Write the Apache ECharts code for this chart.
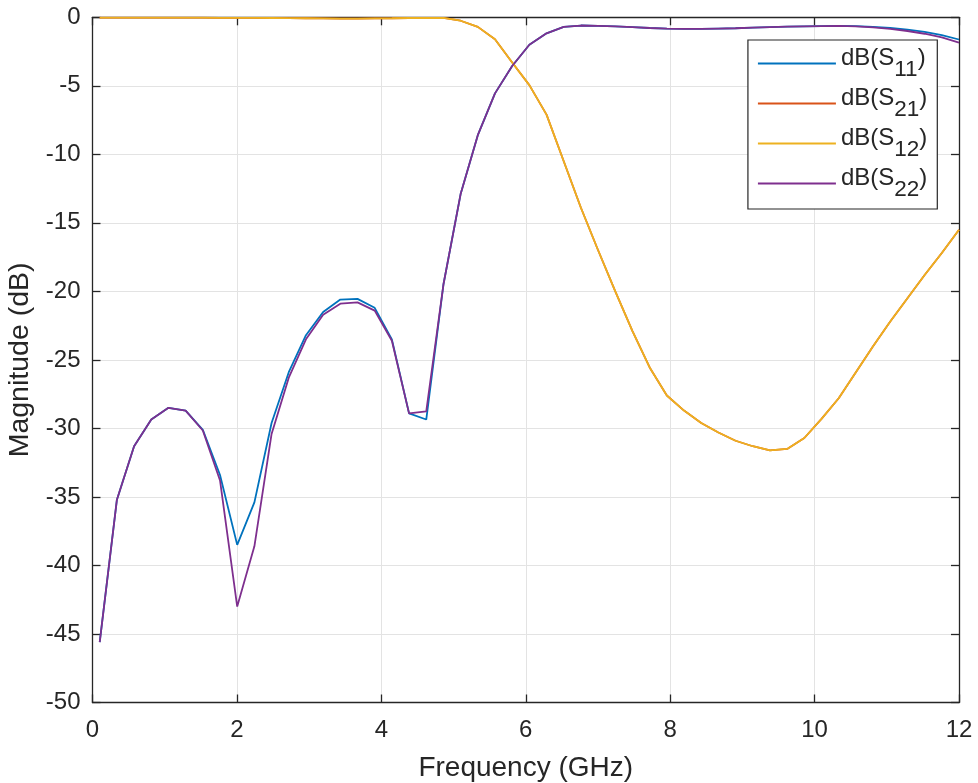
<!DOCTYPE html>
<html>
<head>
<meta charset="utf-8">
<script src="https://cdn.jsdelivr.net/npm/echarts@6/dist/echarts.min.js"></script>
<style>html,body{margin:0;padding:0;background:#fff;}#c{width:978px;height:783px;}</style>
</head>
<body>
<div id="c"></div>
<script>
// Frequency samples (GHz)
var freq = [0.1,0.338,0.576,0.814,1.052,1.29,1.528,1.766,2.004,2.242,2.48,2.718,2.956,3.194,3.432,3.67,3.908,4.146,4.384,4.622,4.86,5.098,5.336,5.574,5.812,6.05,6.288,6.526,6.764,7.002,7.24,7.478,7.716,7.954,8.192,8.43,8.668,8.906,9.144,9.382,9.62,9.858,10.096,10.334,10.572,10.81,11.048,11.286,11.524,11.762,12.0];
var s11 = [-45.6,-35.2,-31.3,-29.35,-28.5,-28.7,-30.1,-33.4,-38.5,-35.4,-29.6,-25.9,-23.2,-21.5,-20.6,-20.55,-21.2,-23.5,-28.9,-29.35,-19.5,-12.9,-8.6,-5.55,-3.55,-2.0,-1.17,-0.7,-0.6,-0.62,-0.66,-0.72,-0.78,-0.82,-0.84,-0.84,-0.82,-0.8,-0.76,-0.72,-0.68,-0.66,-0.64,-0.63,-0.65,-0.7,-0.78,-0.9,-1.07,-1.3,-1.62];
var s22 = [-45.6,-35.2,-31.3,-29.35,-28.5,-28.7,-30.15,-33.8,-43.0,-38.6,-30.4,-26.3,-23.5,-21.7,-20.9,-20.8,-21.4,-23.6,-28.9,-28.75,-19.5,-12.9,-8.6,-5.55,-3.55,-2.0,-1.17,-0.7,-0.6,-0.62,-0.66,-0.72,-0.78,-0.82,-0.84,-0.84,-0.82,-0.8,-0.76,-0.72,-0.68,-0.66,-0.64,-0.63,-0.66,-0.74,-0.85,-1.0,-1.2,-1.47,-1.85];
var s21 = [-0.02,-0.02,-0.02,-0.02,-0.03,-0.03,-0.03,-0.04,-0.04,-0.04,-0.05,-0.06,-0.07,-0.08,-0.09,-0.09,-0.08,-0.07,-0.05,-0.04,-0.05,-0.25,-0.7,-1.6,-3.3,-4.95,-7.1,-10.5,-13.9,-17.0,-20.0,-22.9,-25.55,-27.6,-28.7,-29.6,-30.3,-30.9,-31.3,-31.6,-31.5,-30.7,-29.3,-27.8,-25.9,-24.0,-22.2,-20.5,-18.8,-17.2,-15.5];
var s12 = s21.slice();
var xTicks = [0,2,4,6,8,10,12];
var yTicks = [-50,-45,-40,-35,-30,-25,-20,-15,-10,-5,0];

function pairs(ys){ return freq.map(function(f,i){ return [f, ys[i]]; }); }

var axisColor = '#262626';
var gridColor = '#e3e3e3';
var font = '"Liberation Sans", Arial, sans-serif';

var chart = echarts.init(document.getElementById('c'), null, {renderer:'canvas'});
var names = {'s11':'{m|dB(S}{s|11}{m|)}','s21':'{m|dB(S}{s|21}{m|)}','s12':'{m|dB(S}{s|12}{m|)}','s22':'{m|dB(S}{s|22}{m|)}'};
var tickStyle = {show:true, inside:true, length:8, lineStyle:{color:axisColor, width:1.3}};
var lineStyle = {show:true, onZero:false, lineStyle:{color:axisColor, width:1.3}};
var option = {
  animation:false,
  backgroundColor:'#fff',
  grid:{left:92.5, right:19, top:17.3, bottom:80.5, containLabel:false, outerBoundsMode:'none'},
  xAxis:[{
    type:'value', min:0, max:12, interval:2, position:'bottom',
    name:'Frequency (GHz)', nameLocation:'middle', nameGap:52,
    nameTextStyle:{color:axisColor, fontSize:28, fontFamily:font},
    axisLine:lineStyle, axisTick:tickStyle,
    axisLabel:{color:axisColor, fontSize:24, fontFamily:font, margin:16,
      formatter:function(v){ return xTicks.indexOf(v)>=0 ? String(v) : ''; }},
    splitLine:{show:true, lineStyle:{color:gridColor, width:1}}
  },{
    type:'value', min:0, max:12, interval:2, position:'top',
    axisLine:lineStyle, axisTick:tickStyle,
    axisLabel:{show:false}, splitLine:{show:false}
  }],
  yAxis:[{
    type:'value', min:-50, max:0, interval:5, position:'left',
    name:'Magnitude (dB)', nameLocation:'middle', nameGap:53, nameRotate:90,
    nameTextStyle:{color:axisColor, fontSize:28.5, fontFamily:font},
    axisLine:lineStyle, axisTick:tickStyle,
    axisLabel:{color:axisColor, fontSize:24, fontFamily:font, margin:12,
      formatter:function(v){ return yTicks.indexOf(v)>=0 ? String(v) : ''; }},
    splitLine:{show:true, lineStyle:{color:gridColor, width:1}}
  },{
    type:'value', min:-50, max:0, interval:5, position:'right',
    axisLine:lineStyle, axisTick:tickStyle,
    axisLabel:{show:false}, splitLine:{show:false}
  }],
  legend:{
    orient:'vertical', right:40.7, top:40,
    backgroundColor:'#fff', borderColor:'#262626', borderWidth:1.2,
    padding:[6,10,8,10], itemWidth:78, itemHeight:2, itemGap:5,
    icon:'rect',
    data:['s11','s21','s12','s22'],
    formatter:function(n){ return names[n]; },
    textStyle:{color:axisColor, fontSize:24, fontFamily:font,
      rich:{
        m:{fontSize:24, fontFamily:font, color:axisColor, padding:[0,0,10,0], lineHeight:24},
        s:{fontSize:22.5, fontFamily:font, color:axisColor, padding:[12,0,0,0], lineHeight:22}
      }}
  },
  series:[
    {name:'s11', type:'line', data:pairs(s11), showSymbol:false, symbol:'none', lineStyle:{color:'#0072BD', width:1.8}, itemStyle:{color:'#0072BD'}, z:2},
    {name:'s21', type:'line', data:pairs(s21), showSymbol:false, symbol:'none', lineStyle:{color:'#D95319', width:1.8}, itemStyle:{color:'#D95319'}, z:2},
    {name:'s12', type:'line', data:pairs(s12), showSymbol:false, symbol:'none', lineStyle:{color:'#EDB120', width:1.8}, itemStyle:{color:'#EDB120'}, z:3},
    {name:'s22', type:'line', data:pairs(s22), showSymbol:false, symbol:'none', lineStyle:{color:'#7E2F8E', width:1.8}, itemStyle:{color:'#7E2F8E'}, z:4}
  ]
};
chart.setOption(option);
</script>
</body>
</html>
